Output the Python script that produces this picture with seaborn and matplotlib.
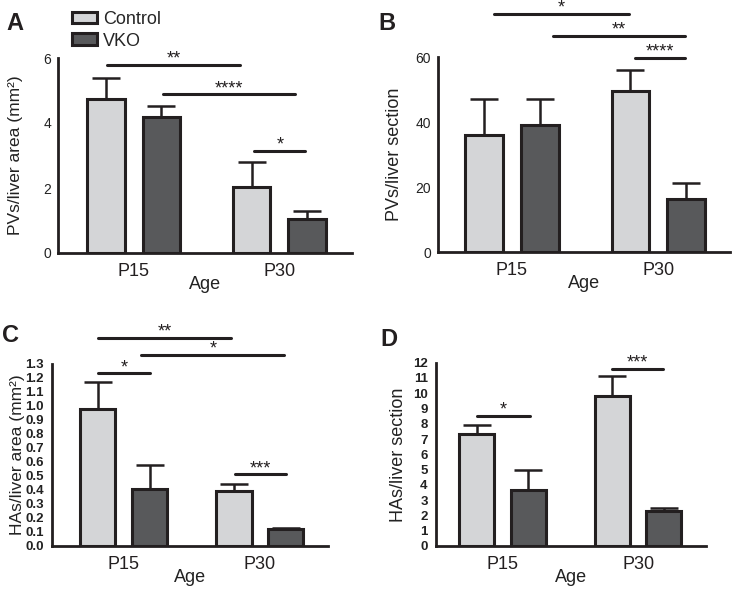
import matplotlib
matplotlib.use("Agg")
import matplotlib.pyplot as plt
import pandas as pd
import numpy as np
import seaborn as sns
from matplotlib.patches import Patch

# Data (mean and upper SEM)
ages = ["P15", "P30"]
groups = ["Control", "VKO"]

pv_area_control = [4.73, 2.04]
pv_area_vko = [4.19, 1.05]
pv_area_control_err = [0.64, 0.75]
pv_area_vko_err = [0.34, 0.25]

pv_section_control = [36.1, 49.7]
pv_section_vko = [39.1, 16.3]
pv_section_control_err = [11.2, 6.4]
pv_section_vko_err = [8.2, 5.1]

ha_area_control = [0.98, 0.39]
ha_area_vko = [0.41, 0.12]
ha_area_control_err = [0.19, 0.05]
ha_area_vko_err = [0.17, 0.01]

ha_section_control = [7.31, 9.82]
ha_section_vko = [3.67, 2.29]
ha_section_control_err = [0.63, 1.31]
ha_section_vko_err = [1.30, 0.22]

# significance brackets: (x start, x end, y, label)
sig_a = [(-0.18, 0.73, 5.78, "**"), (0.20, 1.11, 4.88, "****"), (0.83, 1.18, 3.15, "*")]
sig_b = [(-0.12, 0.80, 73.3, "*"), (0.28, 1.18, 66.6, "**"), (0.84, 1.18, 59.9, "****")]
sig_c = [(-0.19, 0.79, 1.488, "**"), (0.13, 1.18, 1.364, "*"),
         (-0.19, 0.19, 1.234, "*"), (0.82, 1.19, 0.512, "***")]
sig_d = [(-0.19, 0.20, 8.51, "*"), (0.81, 1.18, 11.61, "***")]

sns.set_style("white")
plt.rcParams['font.family'] = ['Liberation Sans', 'DejaVu Sans']

light = "#d4d5d7"
dark = "#58595b"
ink = "#231f20"
W, H = 733, 589

fig = plt.figure(figsize=(W / 100, H / 100), dpi=100)


def make_ax(left, right, top, bottom):
    return fig.add_axes([left / W, 1 - bottom / H, (right - left) / W, (bottom - top) / H])


def panel(ax, ctrl, vko, ctrl_err, vko_err, ylim, yticks, yticklabels, xlim,
          ylabel, ylab_size, sig, bold_ticks, ylab_x):
    df = pd.DataFrame({
        "Age": ages * 2,
        "Group": [groups[0]] * 2 + [groups[1]] * 2,
        "value": ctrl + vko,
    })
    sns.barplot(data=df, x="Age", y="value", hue="Group", order=ages, hue_order=groups,
                palette=[light, dark], errorbar=None, width=0.76, gap=0.32,
                edgecolor=ink, linewidth=2.2, ax=ax, legend=False, zorder=3)
    errs = ctrl_err + vko_err
    vals = ctrl + vko
    for p, v, e in zip(ax.patches, vals, errs):
        xc = p.get_x() + p.get_width() / 2
        ax.errorbar(xc, v, yerr=[[0], [e]], color=ink, elinewidth=1.8,
                    capsize=10, capthick=1.8, zorder=2)
    ax.set_xlim(*xlim)
    ax.set_ylim(*ylim)
    ax.set_yticks(yticks)
    if bold_ticks:
        ax.set_yticklabels(yticklabels, fontsize=9.5, fontweight="bold")
        ax.tick_params(axis="y", length=5, width=2, pad=1, colors=ink)
    else:
        ax.set_yticklabels(yticklabels, fontsize=10)
        ax.tick_params(axis="y", length=4, width=1.2, pad=1, colors=ink)
    ax.tick_params(axis="x", length=3, width=1, pad=4, labelsize=13, colors=ink)
    ax.tick_params(axis="y", labelcolor="#222222")
    ax.set_xlabel("Age", fontsize=13, labelpad=-3, color="#222222")
    ax.set_ylabel(ylabel, fontsize=ylab_size, color="#222222")
    ax.yaxis.set_label_coords(ylab_x, 0.5)
    for s in ["top", "right"]:
        ax.spines[s].set_visible(False)
    for s in ["left", "bottom"]:
        ax.spines[s].set_color(ink)
        ax.spines[s].set_linewidth(2)
    for x1, x2, y, lab in sig:
        ax.plot([x1, x2], [y, y], color=ink, lw=2.2, clip_on=False, zorder=4)
        ax.annotate(lab, ((x1 + x2) / 2, y), xytext=(0, -2), textcoords="offset points",
                    ha="center", va="bottom", fontsize=13, color=ink,
                    annotation_clip=False)


axA = make_ax(58, 352, 58, 253)
panel(axA, pv_area_control, pv_area_vko, pv_area_control_err, pv_area_vko_err,
      (0, 6), [0, 2, 4, 6], ["0", "2", "4", "6"], (-0.52, 1.50),
      "PVs/liver area (mm²)", 12.5, sig_a, False, -0.119)

axB = make_ax(438, 730, 57.3, 252.3)
panel(axB, pv_section_control, pv_section_vko, pv_section_control_err, pv_section_vko_err,
      (0, 60), [0, 20, 40, 60], ["0", "20", "40", "60"], (-0.504, 1.49),
      "PVs/liver section", 13, sig_b, False, -0.120)

c_ticks = np.round(np.arange(0, 1.31, 0.1), 1)
axC = make_ax(52, 328, 364, 546)
panel(axC, ha_area_control, ha_area_vko, ha_area_control_err, ha_area_vko_err,
      (0, 1.3), c_ticks, [f"{t:.1f}" for t in c_ticks], (-0.527, 1.50),
      "HAs/liver area (mm²)", 12.5, sig_c, True, -0.098)

d_ticks = list(range(0, 13))
axD = make_ax(436, 706, 362.7, 546)
panel(axD, ha_section_control, ha_section_vko, ha_section_control_err, ha_section_vko_err,
      (0, 12), d_ticks, [str(t) for t in d_ticks], (-0.49, 1.50),
      "HAs/liver section", 13, sig_d, True, -0.107)

# legend in panel A
handles = [Patch(facecolor=light, edgecolor=ink, linewidth=2.2, label="Control"),
           Patch(facecolor=dark, edgecolor=ink, linewidth=2.2, label="VKO")]
fig.legend(handles=handles, loc="upper left", bbox_to_anchor=(72 / W, 1 - 11 / H),
           frameon=False, fontsize=13, handlelength=1.4, handleheight=0.6,
           handletextpad=0.3, labelspacing=0.25, borderaxespad=0, borderpad=0)

# panel letters
for lab, x, y in [("A", 6, 30), ("B", 378, 30), ("C", 2, 342), ("D", 380, 346)]:
    fig.text(x / W, 1 - y / H, lab, fontsize=17, fontweight="bold", color=ink)

fig.savefig("out.png", dpi=100)
